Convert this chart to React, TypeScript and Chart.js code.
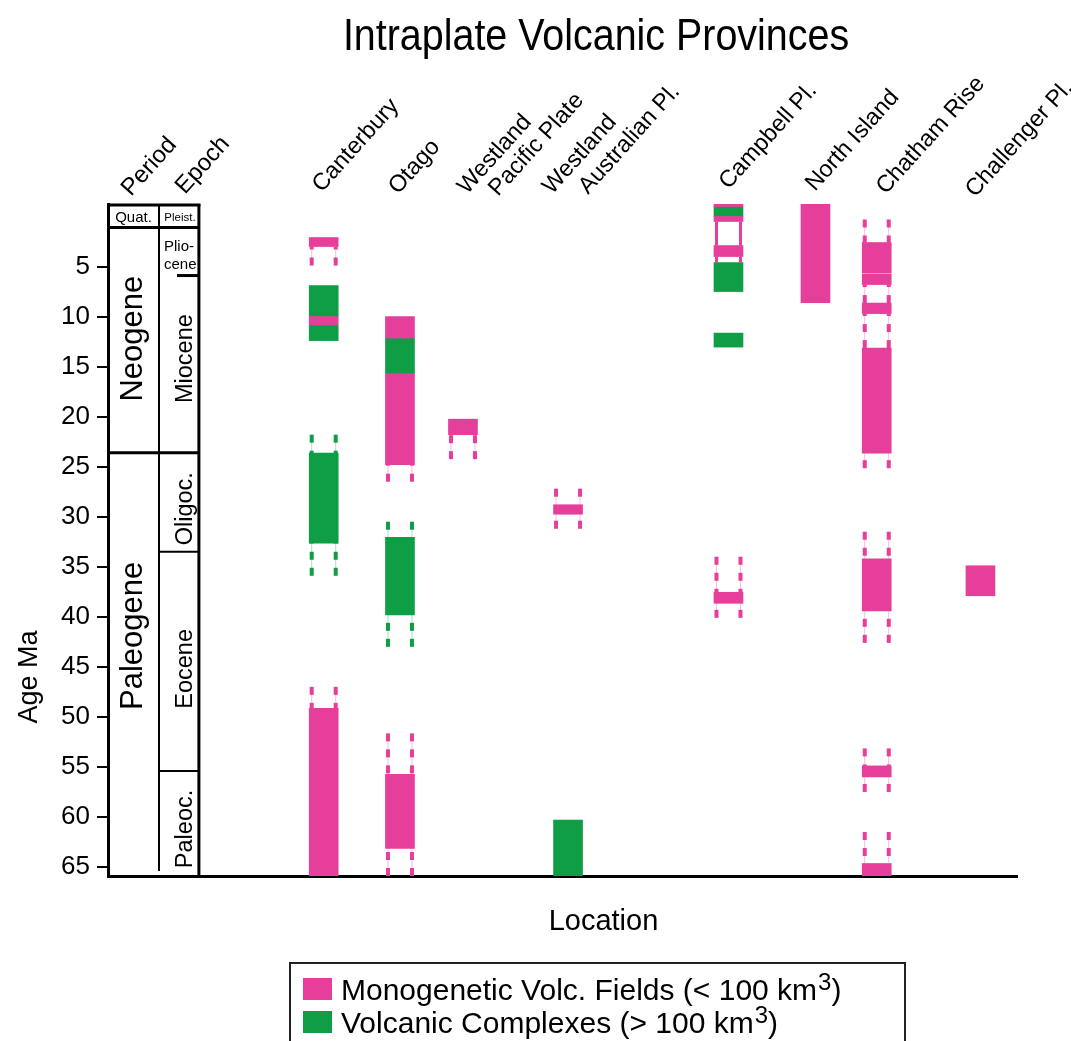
import React, { useEffect, useRef } from 'react';
import { Chart, registerables } from 'chart.js';

Chart.register(...registerables);

const FONT = '"Liberation Sans", Arial, Helvetica, sans-serif';
const PINK = '#E63E9B';
const GREEN = '#0F9E45';
const COLORS = [PINK, GREEN];
const FAINT = ['rgba(230,62,155,0.35)', 'rgba(15,158,69,0.35)'];

const chartTitle = 'Intraplate Volcanic Provinces';
const xAxisTitle = 'Location';
const yAxisTitle = 'Age Ma';

const seriesLabels = ['Monogenetic Volc. Fields (< 100 km³)', 'Volcanic Complexes (> 100 km³)'];
const legendParts = [
  ['Monogenetic Volc. Fields (< 100 km', '3', ')'],
  ['Volcanic Complexes (> 100 km', '3', ')'],
];

const locations = [
  'Canterbury', 'Otago', 'Westland Pacific Plate', 'Westland Australian Pl.',
  'Campbell Pl.', 'North Island', 'Chatham Rise', 'Challenger Pl.',
];
const locationLabelLines = [
  ['Canterbury'], ['Otago'], ['Westland', 'Pacific Plate'], ['Westland', 'Australian Pl.'],
  ['Campbell Pl.'], ['North Island'], ['Chatham Rise'], ['Challenger Pl.'],
];
// location positions along the (unitless) x axis, 0..100
const locationX = [23.73, 32.12, 39.05, 50.61, 68.26, 77.83, 84.57, 95.98];
// label anchor shifts (px) relative to the bar centre, and baseline y (px)
const labelDx = [[-2], [-2], [4, 35], [-16, 20], [0], [-0.5], [9], [-5.5]];
const labelY = [[193], [195], [195, 197], [195, 195], [190], [192], [195], [198]];

const ageTicks = [5, 10, 15, 20, 25, 30, 35, 40, 45, 50, 55, 60, 65];
const ageMin = -1.25;
const ageMax = 65.9;

// [location index, from Ma, to Ma]
const monogeneticFields: [number, number, number][] = [
  [0, 2.1, 3.0], [0, 10.0, 10.85], [0, 49.15, 65.9],
  [1, 10.0, 12.15], [1, 15.7, 24.8], [1, 55.75, 63.15],
  [2, 20.25, 21.8],
  [3, 28.8, 29.75],
  [4, -1.25, -1.0], [4, 0.0, 0.5], [4, 2.9, 4.0], [4, 37.55, 38.65],
  [5, -1.25, 8.6],
  [6, 2.6, 5.65], [6, 5.75, 6.8], [6, 8.65, 9.7], [6, 13.15, 23.65], [6, 34.2, 39.4],
  [6, 54.9, 56.0], [6, 64.65, 65.9],
  [7, 34.9, 37.9],
];
const volcanicComplexes: [number, number, number][] = [
  [0, 6.9, 10.0], [0, 10.85, 12.4], [0, 23.65, 32.65],
  [1, 12.15, 15.7], [1, 32.05, 39.8],
  [3, 60.3, 65.9],
  [4, -1.0, 0.0], [4, 4.6, 7.5], [4, 11.65, 13.05],
];
// uncertain age extents (dashed): [location, series 0=mono 1=complex, bar edge Ma, far end Ma]
const uncertainRanges: [number, number, number, number][] = [
  [0, 0, 3.0, 4.9],
  [0, 1, 23.65, 21.8], [0, 1, 32.65, 35.9],
  [0, 0, 49.15, 47.0],
  [1, 0, 24.8, 26.5],
  [1, 1, 32.05, 30.5], [1, 1, 39.8, 43.0],
  [1, 0, 55.75, 51.65], [1, 0, 63.15, 65.9],
  [2, 0, 21.8, 24.25],
  [3, 0, 28.8, 27.2], [3, 0, 29.75, 31.2],
  [4, 0, 37.55, 34.0], [4, 0, 38.65, 40.1],
  [6, 0, 2.6, 0.3], [6, 0, 6.8, 8.65], [6, 0, 9.7, 13.15], [6, 0, 23.65, 25.15],
  [6, 0, 34.2, 31.5], [6, 0, 39.4, 42.6], [6, 0, 54.9, 53.15], [6, 0, 56.0, 57.5],
  [6, 0, 64.65, 61.5],
];
// solid links between bars: [location, series, from Ma, to Ma]
const solidLinks: [number, number, number, number][] = [
  [4, 0, 0.5, 2.9], [4, 0, 4.0, 4.6],
];

// geologic time column
const stratX = [0, 5.61, 10.0];
const headerBottomAge = 1.1;
const headerNames = ['Quat.', 'Pleist.'];
const periodNames = ['Neogene', 'Paleogene'];
const periodLabelAge = [12.2, 41.9];
const periodBoundaryAges = [23.6];
const epochNames = ['Miocene', 'Oligoc.', 'Eocene', 'Paleoc.'];
const epochLabelAge = [14.2, 29.2, 45.2, 61.2];
const epochBoundaryAges = [33.5, 55.4];
const plioMioBoundaryAge = 5.9;
const plioLines = ['Plio-', 'cene'];
const columnHeaders = ['Period', 'Epoch'];

const BAR_W = 29;
const ANGLE = -48 * Math.PI / 180;

function line(ctx: CanvasRenderingContext2D, x1: number, y1: number, x2: number, y2: number, w: number) {
  ctx.lineWidth = w;
  ctx.beginPath();
  ctx.moveTo(x1, y1);
  ctx.lineTo(x2, y2);
  ctx.stroke();
}

const decorPlugin = {
  id: 'decor',
  afterDatasetsDraw(chart: any) {
    const { ctx } = chart;
    const xs = chart.scales.x;
    const ys = chart.scales.y;
    ctx.save();
    uncertainRanges.forEach(([loc, s, edge, far]) => {
      const cx = xs.getPixelForValue(locationX[loc]);
      const xsides = [cx - BAR_W / 2 + 2.5, cx + BAR_W / 2 - 2.5];
      const yf = ys.getPixelForValue(far);
      const ye = ys.getPixelForValue(edge);
      xsides.forEach((px) => {
        ctx.setLineDash([]);
        ctx.strokeStyle = FAINT[s];
        line(ctx, px, yf, px, ye, 1);
        ctx.strokeStyle = COLORS[s];
        ctx.setLineDash([8, 8]);
        line(ctx, px, yf, px, ye, 4);
      });
    });
    ctx.setLineDash([]);
    solidLinks.forEach(([loc, s, a, b]) => {
      const cx = xs.getPixelForValue(locationX[loc]);
      ctx.strokeStyle = COLORS[s];
      [cx - BAR_W / 2 + 2.5, cx + BAR_W / 2 - 2.5].forEach((px) => {
        line(ctx, px, ys.getPixelForValue(a), px, ys.getPixelForValue(b), 3);
      });
    });
    ctx.restore();
  },
  afterDraw(chart: any) {
    const { ctx } = chart;
    const xs = chart.scales.x;
    const ys = chart.scales.y;
    ctx.save();
    ctx.fillStyle = '#000';
    ctx.strokeStyle = '#000';

    // title
    ctx.save();
    ctx.font = `44px ${FONT}`;
    ctx.textAlign = 'center';
    ctx.textBaseline = 'alphabetic';
    ctx.translate(596, 49.5);
    ctx.scale(0.896, 1);
    ctx.fillText(chartTitle, 0, 0);
    ctx.restore();

    // geologic column
    const L = xs.getPixelForValue(stratX[0]);
    const M = xs.getPixelForValue(stratX[1]);
    const R = xs.getPixelForValue(stratX[2]);
    const top = ys.getPixelForValue(ageMin);
    const bot = ys.getPixelForValue(ageMax);
    const hb = ys.getPixelForValue(headerBottomAge);
    line(ctx, R, top, R, bot, 3);
    line(ctx, L, top + 1, R + 1.5, top + 1, 3);
    line(ctx, L, hb, R, hb, 3);
    line(ctx, M, top, M, bot - 5, 2);
    periodBoundaryAges.forEach((a) => line(ctx, L, ys.getPixelForValue(a), R, ys.getPixelForValue(a), 3));
    epochBoundaryAges.forEach((a) => line(ctx, M, ys.getPixelForValue(a), R, ys.getPixelForValue(a), 2));
    const pm = ys.getPixelForValue(plioMioBoundaryAge);
    line(ctx, M + 18, pm, R, pm, 3);

    ctx.textBaseline = 'alphabetic';
    ctx.textAlign = 'center';
    ctx.font = `15px ${FONT}`;
    ctx.fillText(headerNames[0], (L + M) / 2, hb - 6);
    ctx.font = `11.5px ${FONT}`;
    ctx.fillText(headerNames[1], (M + R) / 2 + 1, hb - 7);
    ctx.textAlign = 'left';
    ctx.font = `15px ${FONT}`;
    ctx.fillText(plioLines[0], M + 5, hb + 23);
    ctx.fillText(plioLines[1], M + 5, hb + 41);

    ctx.textAlign = 'center';
    ctx.font = `31px ${FONT}`;
    periodNames.forEach((n, i) => {
      ctx.save();
      ctx.translate(L + 34, ys.getPixelForValue(periodLabelAge[i]));
      ctx.rotate(-Math.PI / 2);
      ctx.fillText(n, 0, 0);
      ctx.restore();
    });
    ctx.font = `23.5px ${FONT}`;
    epochNames.forEach((n, i) => {
      ctx.save();
      ctx.translate(R - 6.7, ys.getPixelForValue(epochLabelAge[i]));
      ctx.rotate(-Math.PI / 2);
      ctx.fillText(n, 0, 0);
      ctx.restore();
    });

    // y axis title
    ctx.font = `27px ${FONT}`;
    ctx.save();
    ctx.translate(36.5, 677);
    ctx.rotate(-Math.PI / 2);
    ctx.fillText(yAxisTitle, 0, 0);
    ctx.restore();

    // x axis title
    ctx.font = `29px ${FONT}`;
    ctx.fillText(xAxisTitle, 603.5, 930);

    // column headers
    ctx.textAlign = 'left';
    ctx.font = `24px ${FONT}`;
    const headerAnchors = [[131, 197], [185, 195]];
    columnHeaders.forEach((h, i) => {
      ctx.save();
      ctx.translate(headerAnchors[i][0], headerAnchors[i][1]);
      ctx.rotate(ANGLE);
      ctx.fillText(h, 0, 0);
      ctx.restore();
    });
    ctx.font = `23.5px ${FONT}`;
    locationLabelLines.forEach((lines, i) => {
      const cx = xs.getPixelForValue(locationX[i]);
      lines.forEach((t, j) => {
        ctx.save();
        ctx.translate(cx + labelDx[i][j], labelY[i][j]);
        ctx.rotate(ANGLE);
        ctx.fillText(t, 0, 0);
        ctx.restore();
      });
    });

    // legend
    ctx.strokeStyle = '#222';
    ctx.lineWidth = 2;
    ctx.strokeRect(290, 963, 615, 140);
    const rowBase = [1000, 1033];
    legendParts.forEach((parts, i) => {
      ctx.fillStyle = COLORS[i];
      ctx.fillRect(303, rowBase[i] - 22, 29, 22);
      ctx.fillStyle = '#000';
      let xx = 341;
      ctx.font = `30px ${FONT}`;
      ctx.fillText(parts[0], xx, rowBase[i]);
      xx += ctx.measureText(parts[0]).width;
      ctx.font = `24px ${FONT}`;
      ctx.fillText(parts[1], xx + 1, rowBase[i] - 10);
      xx += ctx.measureText(parts[1]).width + 1;
      ctx.font = `30px ${FONT}`;
      ctx.fillText(parts[2], xx, rowBase[i]);
    });
    ctx.restore();
  },
};

export default function App() {
  const ref = useRef<HTMLCanvasElement>(null);
  useEffect(() => {
    const toData = (arr: [number, number, number][]) =>
      arr.map(([i, a, b]) => ({ x: locationX[i], y: [a, b] }));
    const chart = new Chart(ref.current as HTMLCanvasElement, {
      type: 'bar',
      data: {
        datasets: [
          {
            label: seriesLabels[0],
            data: toData(monogeneticFields) as any,
            backgroundColor: PINK,
            borderWidth: 0,
            grouped: false,
            barThickness: BAR_W,
          },
          {
            label: seriesLabels[1],
            data: toData(volcanicComplexes) as any,
            backgroundColor: GREEN,
            borderWidth: 0,
            grouped: false,
            barThickness: BAR_W,
          },
        ],
      },
      options: {
        responsive: false,
        animation: false,
        devicePixelRatio: 1,
        layout: { padding: { top: 204, right: 54, bottom: 0, left: 0 } },
        plugins: {
          legend: { display: false },
          title: { display: false },
          tooltip: { enabled: false },
        },
        scales: {
          x: {
            type: 'linear',
            min: 0,
            max: 100,
            offset: false,
            ticks: { display: false },
            grid: { display: false, drawTicks: false },
            border: { display: true, color: '#000', width: 3 },
            afterFit: (s: any) => { s.height = 165; },
          },
          y: {
            type: 'linear',
            reverse: true,
            min: ageMin,
            max: ageMax,
            afterBuildTicks: (s: any) => { s.ticks = ageTicks.map((v) => ({ value: v })); },
            ticks: { color: '#000', font: { size: 26, family: FONT }, padding: 7, autoSkip: false },
            grid: { drawOnChartArea: false, drawTicks: true, tickLength: 11, color: '#000', lineWidth: 2 },
            border: { display: true, color: '#000', width: 3 },
            afterFit: (s: any) => { s.width = 108; },
          },
        },
      } as any,
      plugins: [decorPlugin],
    });
    return () => chart.destroy();
  }, []);
  return (
    <div style={{ position: 'fixed', left: 0, top: 0, width: 1071, height: 1041, background: '#fff' }}>
      <canvas ref={ref} width={1071} height={1041} style={{ display: 'block' }} />
    </div>
  );
}
